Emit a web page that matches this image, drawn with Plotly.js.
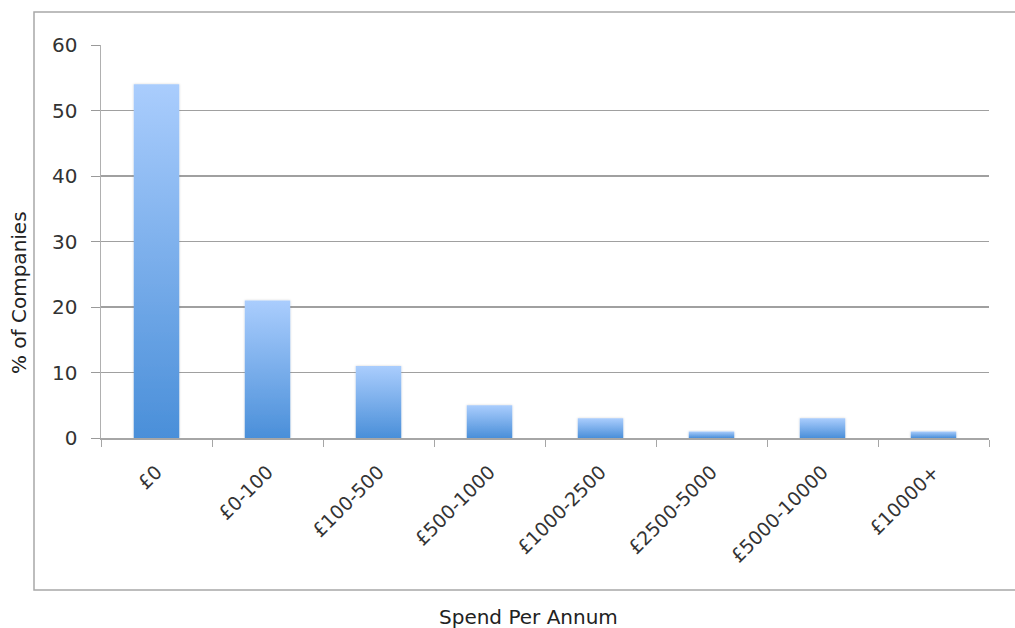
<!DOCTYPE html>
<html>
<head>
<meta charset="utf-8">
<script src="https://cdn.plot.ly/plotly-3.0.1.min.js"></script>
<style>
  html, body { margin: 0; padding: 0; background: #fff; }
  #chart { width: 1015px; height: 628px; }
</style>
</head>
<body>
<div id="chart"></div>
<script>
// Annual spend bands and share of companies in each
const categories = ['£0', '£0-100', '£100-500', '£500-1000', '£1000-2500', '£2500-5000', '£5000-10000', '£10000+'];
const percentCompanies = [54, 21, 11, 5, 3, 1, 3, 1];
const yTicks = [0, 10, 20, 30, 40, 50, 60];

const FONT = 'DejaVu Sans, Verdana, sans-serif';
const TEXT = '#333333';
const W = 1015, H = 628;
const M = { l: 101, r: 26, t: 45, b: 190 };
const pw = W - M.l - M.r, ph = H - M.t - M.b;
// convert pixel offsets of the outer frame to paper fractions
const px = v => (v - M.l) / pw;
const py = v => 1 - (v - M.t) / ph;

const trace = {
  type: 'bar',
  x: categories,
  y: percentCompanies,
  marker: { color: '#79afee', line: { width: 0 } },
  hoverinfo: 'x+y'
};

const layout = {
  width: W, height: H,
  margin: M,
  paper_bgcolor: '#ffffff',
  plot_bgcolor: '#ffffff',
  bargap: 0.59,
  showlegend: false,
  font: { family: FONT, color: TEXT },
  xaxis: {
    type: 'category',
    tickangle: -45,
    tickfont: { size: 19, family: FONT, color: TEXT },
    ticks: 'outside',
    tickson: 'boundaries',
    ticklen: 7,
    tickcolor: '#a6a6a6',
    ticklabelstandoff: 14,
    showline: true,
    linecolor: '#a6a6a6',
    linewidth: 1.5,
    showgrid: false,
    zeroline: false,
    fixedrange: true
  },
  yaxis: {
    range: [0, 60],
    tickvals: yTicks,
    ticktext: yTicks.map(String),
    tickfont: { size: 20, family: FONT, color: TEXT },
    ticks: 'outside',
    ticklen: 9,
    tickcolor: '#9a9a9a',
    ticklabelstandoff: 9,
    showline: true,
    linecolor: '#b0b0b0',
    linewidth: 1.5,
    showgrid: true,
    gridcolor: '#a0a0a0',
    gridwidth: 1.5,
    zeroline: false,
    fixedrange: true
  },
  shapes: [{
    type: 'rect', xref: 'paper', yref: 'paper',
    x0: px(34), x1: px(1030), y0: py(590), y1: py(12),
    line: { color: '#a8a8a8', width: 1.5 },
    fillcolor: 'rgba(0,0,0,0)',
    layer: 'below'
  }],
  annotations: [{
    text: 'Spend Per Annum',
    xref: 'paper', yref: 'paper',
    x: px(528), y: py(617),
    xanchor: 'center', yanchor: 'middle',
    showarrow: false,
    font: { size: 20, family: FONT, color: '#222' }
  }, {
    text: '% of Companies',
    xref: 'paper', yref: 'paper',
    x: px(19), y: py(293),
    xanchor: 'center', yanchor: 'middle',
    textangle: -90,
    showarrow: false,
    font: { size: 20, family: FONT, color: '#222' }
  }]
};

const gd = document.getElementById('chart');
Plotly.newPlot(gd, [trace], layout, { displayModeBar: false, staticPlot: true }).then(() => {
  // vertical light-to-dark blue gradient on each bar
  const svg = gd.querySelector('.main-svg');
  const NS = 'http://www.w3.org/2000/svg';
  let defs = svg.querySelector('defs');
  if (!defs) { defs = document.createElementNS(NS, 'defs'); svg.insertBefore(defs, svg.firstChild); }
  const grad = document.createElementNS(NS, 'linearGradient');
  grad.setAttribute('id', 'barGrad');
  grad.setAttribute('x1', '0'); grad.setAttribute('y1', '0');
  grad.setAttribute('x2', '0'); grad.setAttribute('y2', '1');
  [['0%', '#aacdfd'], ['100%', '#4a8fd9']].forEach(([o, c]) => {
    const s = document.createElementNS(NS, 'stop');
    s.setAttribute('offset', o); s.setAttribute('stop-color', c);
    grad.appendChild(s);
  });
  defs.appendChild(grad);
  const filt = document.createElementNS(NS, 'filter');
  filt.setAttribute('id', 'barShadow');
  filt.setAttribute('x', '-20%'); filt.setAttribute('y', '-20%');
  filt.setAttribute('width', '140%'); filt.setAttribute('height', '140%');
  filt.innerHTML = '<feDropShadow dx="0" dy="0" stdDeviation="1.2" flood-color="#000" flood-opacity="0.18"/>';
  defs.appendChild(filt);
  gd.querySelectorAll('.barlayer .point path').forEach(p => {
    p.style.fill = 'url(#barGrad)';
    p.style.filter = 'url(#barShadow)';
  });
});
</script>
</body>
</html>
